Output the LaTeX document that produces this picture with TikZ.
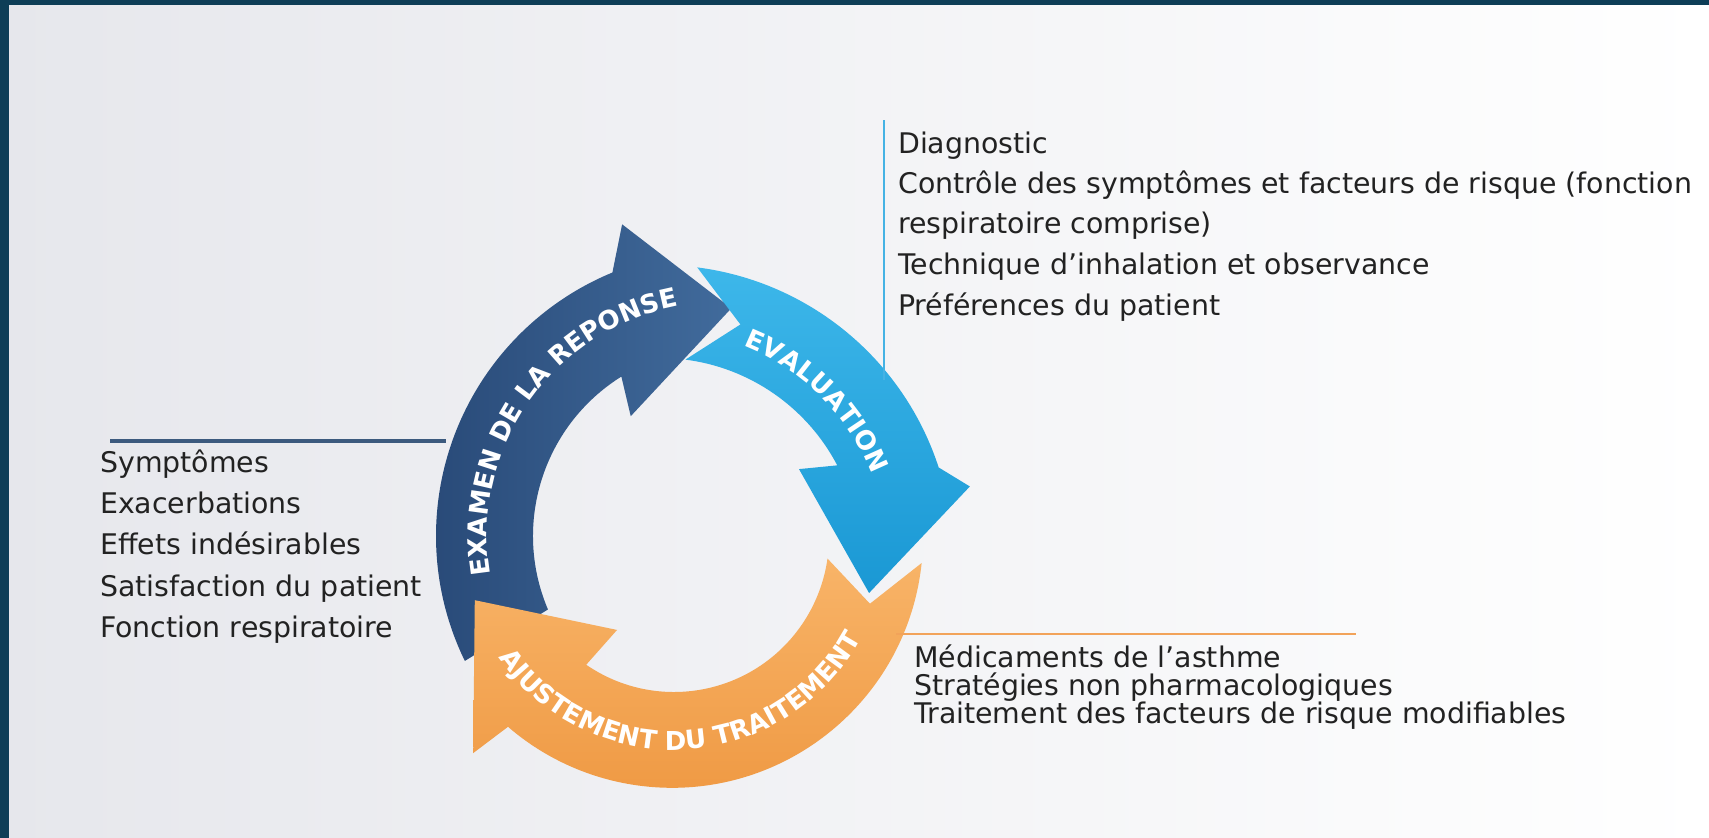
\documentclass[tikz,border=0pt]{standalone}
\usepackage{fontspec}
\setmainfont{DejaVu Sans}
\usetikzlibrary{calc,decorations.text}
\definecolor{framec}{HTML}{0E3E57}
\definecolor{bgl}{HTML}{E6E7EC}
\definecolor{txt}{HTML}{222222}
\definecolor{darkA}{HTML}{284977}
\definecolor{darkB}{HTML}{416B9C}
\definecolor{blueA}{HTML}{3DB7EA}
\definecolor{blueB}{HTML}{1A98D4}
\definecolor{orA}{HTML}{F8B468}
\definecolor{orB}{HTML}{EF9943}
\definecolor{lineDark}{HTML}{3C5A7E}
\definecolor{lineBlue}{HTML}{45B2E4}
\definecolor{lineOr}{HTML}{F2A35A}
\tikzset{
  listtext/.style={anchor=base west, inner sep=0pt, text=txt, font=\fontsize{28.4}{28}\selectfont},
  darkarrow/.style={left color=darkA, right color=darkB},
  bluearrow/.style={top color=blueA, bottom color=blueB},
  orarrow/.style={top color=orA, bottom color=orB},
  arrowlabel/.style={decorate, decoration={text along path, text align=center, text color=white,
     text={|\bfseries\fontsize{26}{26}\selectfont|#1}}}
}
\begin{document}
\begin{tikzpicture}[x=1pt,y=1pt]
\useasboundingbox (0,0) rectangle (1709,-838);
\shade[left color=bgl, right color=white] (0,0) rectangle (1709,-838);
\fill[framec] (0,0) rectangle (1709,-5);
\fill[framec] (0,0) rectangle (9,-838);

\coordinate (Cd) at (721,-536);
\coordinate (Cb) at (660,-558);
\coordinate (Co) at (674,-537);

% dark arrow
\path[darkarrow] ($(Cd)+(206:285)$) arc[start angle=206,end angle=112.4,radius=285]
  -- ($(Cd)+(107.6:327)$) -- ($(Cd)+(87.4:228)$) -- ($(Cd)+(127:150)$)
  -- ($(Cd)+(122:188)$) arc[start angle=122,end angle=203,radius=188] -- cycle;
% blue arrow
\path[bluearrow] ($(Cb)+(82.7:293)$) arc[start angle=82.7,end angle=18,radius=293]
  -- ($(Cb)+(13:318)$) -- ($(Cb)+(-9.5:212)$) -- ($(Cb)+(32.6:165)$)
  -- ($(Cb)+(27.6:200)$) arc[start angle=27.6,end angle=82.7,radius=200]
  -- ($(Cb)+(71:247)$) -- cycle;
% orange arrow
\path[orarrow] ($(Co)+(-6:249)$) arc[start angle=-6,end angle=-130.8,radius=251]
  -- ($(Co)+(-132.9:295)$) -- ($(Co)+(-162.4:209)$) -- ($(Co)+(-121.5:109)$)
  -- ($(Co)+(-124.5:155)$) arc[start angle=-124.5,end angle=-8,radius=155]
  -- ($(Co)+(-18.8:207)$) -- cycle;

% labels along arrows
\path[arrowlabel={EXAMEN DE LA REPONSE}] ($(Cd)+(195:234)$) arc[start angle=195,end angle=95,radius=234];
\path[arrowlabel={EVALUATION}] ($(Cb)+(74:228)$) arc[start angle=74,end angle=16,radius=228];
\path[arrowlabel={AJUSTEMENT DU TRAITEMENT}] ($(Co)+(204:213)$) arc[start angle=204,end angle=342,radius=213];

% left list
\coordinate (l1) at (110,-441);
\coordinate (l2) at (446,-441);
\draw[lineDark, line width=3.5pt] (l1) -- (l2);
\node[listtext] (s1) at (100,-472) {Symptômes};
\node[listtext] (s2) at (100,-513) {Exacerbations};
\node[listtext] (s3) at (100,-554) {Effets indésirables};
\node[listtext] (s4) at (100,-596) {Satisfaction du patient};
\node[listtext] (s5) at (100,-637) {Fonction respiratoire};

% top right list
\coordinate (t1) at (884,-120);
\coordinate (t2) at (884,-380);
\draw[lineBlue, line width=2.5pt] (t1) -- (t2);
\node[listtext] (e1) at (898,-153) {Diagnostic};
\node[listtext] (e2) at (898,-193) {Contrôle des symptômes et facteurs de risque (fonction};
\node[listtext] (e3) at (898,-233) {respiratoire comprise)};
\node[listtext] (e4) at (898,-274) {Technique d’inhalation et observance};
\node[listtext] (e5) at (898,-315) {Préférences du patient};

% bottom right list
\coordinate (b1) at (896,-634);
\coordinate (b2) at (1356,-634);
\draw[lineOr, line width=2.5pt] (b1) -- (b2);
\node[listtext] (a1) at (914,-667) {Médicaments de l’asthme};
\node[listtext] (a2) at (914,-695) {Stratégies non pharmacologiques};
\node[listtext] (a3) at (914,-723) {Traitement des facteurs de risque modifiables};
\end{tikzpicture}
\end{document}
